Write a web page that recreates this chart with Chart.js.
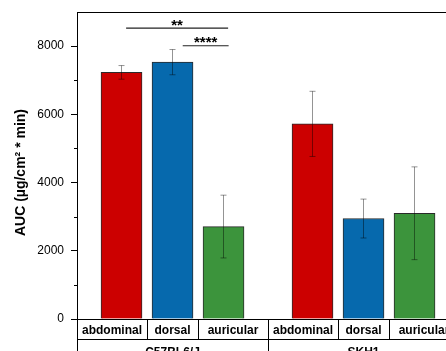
<!DOCTYPE html>
<html><head><meta charset="utf-8">
<script src="https://cdn.jsdelivr.net/npm/chart.js@4.4.0/dist/chart.umd.min.js"></script>
<style>html,body{margin:0;padding:0;overflow:hidden;background:#fff}</style>
</head><body>
<canvas id="c" width="446" height="351"></canvas>
<script>
// ---- data ----
const strains = ["C57BL6/J", "SKH1"];
const sites = ["abdominal", "dorsal", "auricular"];
const barPositions = [0, 1, 2, 3.745, 4.745, 5.745];
const aucMean = [7230, 7530, 2710, 5720, 2945, 3100];
const aucSD = [200, 370, 920, 955, 570, 1360];
const barColors = ["#cc0000", "#0669ad", "#3c943c", "#cc0000", "#0669ad", "#3c943c"];
const yTicks = [0, 2000, 4000, 6000, 8000];
const yMinorTicks = [1000, 3000, 5000, 7000];
const sigFrom = [0.09, 1.2];
const sigTo = [2.09, 2.1];
const sigLevel = [8530, 8010];
const sigLabels = ["**", "****"];
const yTitle = "AUC (\u00b5g/cm\u00b2 * min)";

const FONT = '"Liberation Sans", Arial, sans-serif';
const GROUP_MARGIN = 0.873;

const deco = {
  id: 'deco',
  afterDatasetsDraw(chart) {
    const {ctx, chartArea: ca, scales: {x, y}} = chart;
    const H = chart.height;
    ctx.save();
    // error bars
    ctx.strokeStyle = 'rgba(0,0,0,0.42)';
    ctx.lineWidth = 1;
    barPositions.forEach((p, i) => {
      const px = Math.floor(x.getPixelForValue(p)) + 0.5;
      const yt = y.getPixelForValue(aucMean[i] + aucSD[i]);
      const yb = y.getPixelForValue(aucMean[i] - aucSD[i]);
      ctx.beginPath();
      ctx.moveTo(px, yt); ctx.lineTo(px, yb);
      ctx.moveTo(px - 3, yt); ctx.lineTo(px + 3, yt);
      ctx.moveTo(px - 3, yb); ctx.lineTo(px + 3, yb);
      ctx.stroke();
    });
    // top frame and bottom axis line
    ctx.strokeStyle = '#000';
    ctx.lineWidth = 1;
    ctx.beginPath();
    ctx.moveTo(ca.left, Math.round(ca.top) + 0.5); ctx.lineTo(chart.width, Math.round(ca.top) + 0.5);
    ctx.moveTo(ca.left, Math.round(ca.bottom) + 0.5); ctx.lineTo(chart.width, Math.round(ca.bottom) + 0.5);
    // y axis extension down through table
    ctx.moveTo(Math.round(ca.left) + 0.5, ca.bottom); ctx.lineTo(Math.round(ca.left) + 0.5, H);
    // minor ticks
    yMinorTicks.forEach(v => {
      const py = Math.round(y.getPixelForValue(v)) + 0.5;
      ctx.moveTo(ca.left - 3, py); ctx.lineTo(ca.left, py);
    });
    // table
    const rowLine = Math.round(ca.bottom) + 20.5;
    ctx.moveTo(ca.left, rowLine); ctx.lineTo(chart.width, rowLine);
    ctx.stroke();

    ctx.fillStyle = '#000';
    ctx.textAlign = 'center';
    ctx.textBaseline = 'alphabetic';
    ctx.font = 'bold 12px ' + FONT;
    strains.forEach((s, g) => {
      const p = barPositions.slice(g * 3, g * 3 + 3);
      const edges = [p[0] - GROUP_MARGIN, (p[0] + p[1]) / 2, (p[1] + p[2]) / 2, p[2] + GROUP_MARGIN];
      const ex = edges.map(e => x.getPixelForValue(e));
      ctx.beginPath();
      [1, 2].forEach(k => {
        const vx = Math.round(ex[k]) + 0.5;
        ctx.moveTo(vx, ca.bottom); ctx.lineTo(vx, rowLine);
      });
      const gx = Math.round(ex[3]) + 0.5;
      ctx.moveTo(gx, ca.bottom); ctx.lineTo(gx, H);
      ctx.stroke();
      sites.forEach((t, k) => {
        ctx.fillText(t, (ex[k] + ex[k + 1]) / 2, ca.bottom + 15);
      });
      ctx.fillText(s, (ex[0] + ex[3]) / 2, ca.bottom + 37);
    });

    // significance brackets
    ctx.strokeStyle = '#222';
    ctx.lineWidth = 1.2;
    ctx.font = 'bold 15px ' + FONT;
    sigLabels.forEach((lab, i) => {
      const x1 = x.getPixelForValue(sigFrom[i]);
      const x2 = x.getPixelForValue(sigTo[i]);
      const py = y.getPixelForValue(sigLevel[i]);
      ctx.beginPath();
      ctx.moveTo(x1, py); ctx.lineTo(x2, py);
      ctx.stroke();
      const m = ctx.measureText(lab);
      const center = py - 5.3;
      const base = center + (m.actualBoundingBoxAscent - m.actualBoundingBoxDescent) / 2;
      ctx.fillText(lab, (x1 + x2) / 2, base);
    });

    // y title
    ctx.save();
    ctx.translate(21, (ca.top + ca.bottom) / 2 + 7);
    ctx.rotate(-Math.PI / 2);
    ctx.font = 'bold 14px ' + FONT;
    ctx.textBaseline = 'middle';
    ctx.textAlign = 'center';
    ctx.fillText(yTitle, 0, 0);
    ctx.restore();
    ctx.restore();
  }
};

new Chart(document.getElementById('c'), {
  type: 'bar',
  data: {
    datasets: [{
      data: barPositions.map((p, i) => ({x: p, y: aucMean[i]})),
      backgroundColor: barColors,
      borderColor: '#2a2a2a',
      borderWidth: 1,
      barThickness: 41
    }]
  },
  options: {
    responsive: false,
    animation: false,
    devicePixelRatio: 1,
    events: [],
    layout: {padding: {top: 12, bottom: 32, left: 0, right: 0}},
    plugins: {legend: {display: false}, tooltip: {enabled: false}},
    scales: {
      x: {type: 'linear', display: false, offset: false, min: -GROUP_MARGIN, max: -GROUP_MARGIN + 369 / 51},
      y: {
        min: 0, max: 9000,
        afterFit(s) { s.width = 77; s.paddingTop = 0; s.paddingBottom = 0; },
        afterBuildTicks(s) { s.ticks = yTicks.map(v => ({value: v})); },
        grid: {display: true, drawOnChartArea: false, drawTicks: true, tickLength: 6, color: '#000'},
        border: {display: true, color: '#000', width: 1},
        ticks: {color: '#000', padding: 7, font: {size: 12, family: FONT}, callback: v => String(v)}
      }
    }
  },
  plugins: [deco]
});
</script>
</body></html>
